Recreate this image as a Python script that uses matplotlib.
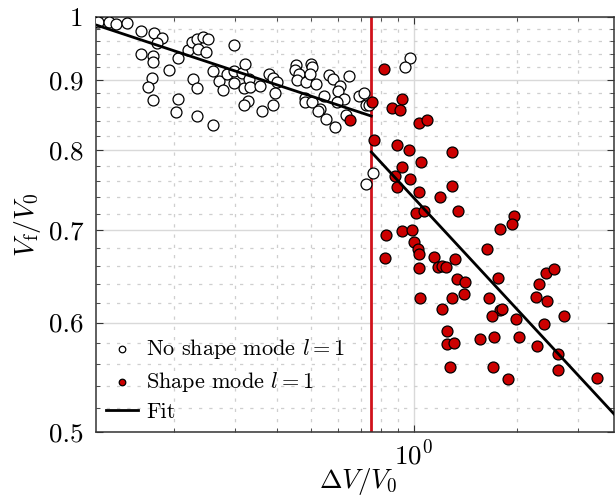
import matplotlib
matplotlib.use("Agg")
import matplotlib.pyplot as plt
from matplotlib.ticker import FixedLocator, MultipleLocator, NullFormatter, LogLocator

plt.rcParams['font.family'] = 'cmr10'
plt.rcParams['mathtext.fontset'] = 'cm'
plt.rcParams['axes.formatter.use_mathtext'] = True

# no shape mode l=1 (dV/V0, Vf/V0)
nos_x = [0.1203, 0.1295, 0.1352, 0.1453, 0.1605, 0.1748, 0.1840, 0.1787, 0.1597, 0.1738,
         0.1738, 0.1934, 0.1722, 0.1677, 0.1738, 0.2051, 0.2189, 0.2246, 0.2338, 0.2431,
         0.2508, 0.2350, 0.2470, 0.2273, 0.2338, 0.2058, 0.2021, 0.2330, 0.2598, 0.2603,
         0.2704, 0.2774, 0.2854, 0.2997, 0.2993, 0.2997, 0.3145, 0.3227, 0.3205, 0.3299,
         0.3319, 0.3281, 0.3205, 0.3557, 0.3617, 0.3783, 0.3894, 0.3979, 0.3933, 0.3894,
         0.4529, 0.4513, 0.4637, 0.4559, 0.4843, 0.5009, 0.5059, 0.4985, 0.5197, 0.4811,
         0.4811, 0.5059, 0.5321, 0.5260, 0.5476, 0.5663, 0.5805, 0.6085, 0.6016, 0.6251,
         0.5952, 0.5528, 0.5884, 0.6464, 0.6335, 0.6913, 0.7163, 0.7231, 0.7408, 0.9735,
         0.9445, 0.7579, 0.7245]
nos_y = [0.9925, 0.9913, 0.9884, 0.9895, 0.9769, 0.9733, 0.9647, 0.9570, 0.9400, 0.9374,
         0.9275, 0.9152, 0.9031, 0.8893, 0.8705, 0.9333, 0.9471, 0.9586, 0.9639, 0.9671,
         0.9634, 0.9474, 0.9429, 0.9016, 0.8885, 0.8719, 0.8535, 0.8475, 0.8355, 0.9142,
         0.8990, 0.8851, 0.9094, 0.9540, 0.9142, 0.8960, 0.9102, 0.9244, 0.8874, 0.9023,
         0.8899, 0.8697, 0.8632, 0.8911, 0.8539, 0.9088, 0.9028, 0.8966, 0.8803, 0.8629,
         0.9229, 0.9145, 0.9084, 0.9005, 0.8970, 0.9240, 0.9203, 0.9084, 0.8945, 0.8734,
         0.8675, 0.8675, 0.8570, 0.8550, 0.8763, 0.9076, 0.9011, 0.8911, 0.8841, 0.8719,
         0.8680, 0.8432, 0.8316, 0.9061, 0.8496, 0.8770, 0.8803, 0.8632, 0.8632, 0.9345,
         0.9198, 0.7701, 0.7561]

# shape mode l=1
sh_x = [0.8176, 0.7528, 0.9207, 0.8644, 0.9103, 0.6508, 1.0341, 1.0934, 0.7661, 0.8922,
        0.9650, 1.2880, 1.0481, 0.9245, 0.8803, 0.9755, 0.8904, 1.2906, 1.0327, 1.1931,
        1.0135, 1.0673, 1.3463, 0.8286, 0.9226, 0.9867, 1.0000, 1.0272, 1.0341, 0.8247,
        1.1414, 1.3168, 1.0362, 1.1772, 1.2043, 1.2396, 1.3373, 1.4111, 1.0432, 1.2880,
        1.4017, 1.2068, 1.7811, 1.6357, 1.7610, 1.6578, 1.7872, 1.8052, 1.6915, 1.2480,
        1.2455, 1.3107, 1.5575, 1.7109, 1.2759, 1.7052, 1.8859, 1.9607, 1.9307, 2.4256,
        2.5646, 2.3143, 2.2728, 2.4371, 1.9792, 2.7427, 2.3933, 2.0195, 2.2835, 2.6292,
        2.6345, 3.4228]
sh_y = [0.9171, 0.8680, 0.8715, 0.8586, 0.8567, 0.8414, 0.8376, 0.8418, 0.8142, 0.8070,
        0.8003, 0.7980, 0.7844, 0.7778, 0.7666, 0.7624, 0.7530, 0.7539, 0.7470, 0.7405,
        0.7210, 0.7231, 0.7231, 0.6946, 0.6989, 0.7005, 0.6865, 0.6782, 0.6733, 0.6681,
        0.6692, 0.6673, 0.6573, 0.6581, 0.6599, 0.6581, 0.6451, 0.6425, 0.6252, 0.6252,
        0.6294, 0.6135, 0.7013, 0.6782, 0.6462, 0.6250, 0.6130, 0.6141, 0.6067, 0.5920,
        0.5786, 0.5802, 0.5838, 0.5857, 0.5571, 0.5574, 0.5456, 0.7170, 0.7071, 0.6522,
        0.6563, 0.6400, 0.6262, 0.6218, 0.6034, 0.6064, 0.5983, 0.5860, 0.5773, 0.5690,
        0.5540, 0.5469]

# power-law fits (end points)
fit1_x = [0.118, 0.751]
fit1_y = [0.987, 0.8474]
fit2_x = [0.751, 3.83]
fit2_y = [0.798, 0.515]
threshold = 0.751

yticks = [0.5, 0.6, 0.7, 0.8, 0.9, 1.0]
yticklabels = ['0.5', '0.6', '0.7', '0.8', '0.9', '1']

fig = plt.figure(figsize=(6.15, 4.97), dpi=100)
ax = fig.add_axes([0.1561, 0.1314, 0.8423, 0.8344])
ax.set_xscale('log')
ax.set_yscale('log')

ax.axvline(threshold, color='#d0121b', lw=2, zorder=2)
ax.scatter(nos_x, nos_y, s=62, facecolor='white', edgecolor='black', linewidth=0.9,
           zorder=3, label=r'No shape mode $l=1$')
ax.scatter(sh_x, sh_y, s=62, facecolor='#cc0000', edgecolor='black', linewidth=0.9,
           zorder=3, label=r'Shape mode $l=1$')
ax.plot(fit1_x, fit1_y, color='black', lw=2, zorder=4, label='Fit')
ax.plot(fit2_x, fit2_y, color='black', lw=2, zorder=4)

ax.set_xlim(0.1183, 3.83)
ax.set_ylim(0.5, 1.0)

ax.yaxis.set_major_locator(FixedLocator(yticks))
ax.set_yticklabels(yticklabels)
ax.yaxis.set_minor_locator(MultipleLocator(0.02))
ax.yaxis.set_minor_formatter(NullFormatter())
ax.xaxis.set_major_locator(LogLocator(base=10))
ax.xaxis.set_minor_locator(LogLocator(base=10, subs=range(2, 10)))
ax.xaxis.set_minor_formatter(NullFormatter())

ax.tick_params(which='both', direction='in', top=True, right=True, labelsize=19.5,
               color='#333333')
ax.tick_params(which='major', length=5, pad=9)
ax.tick_params(axis='x', which='major', pad=6)
ax.tick_params(which='minor', length=3)
ax.grid(which='major', color='#d9d9d9', lw=1, ls='-', zorder=0)
ax.grid(which='minor', color='#cfcfcf', lw=0.9, ls=(0, (2.6, 5.6)), zorder=0)
ax.set_axisbelow(True)
for sp in ax.spines.values():
    sp.set_color('#333333')
    sp.set_linewidth(1.1)

ax.set_xlabel(r'$\Delta V/V_0$', fontsize=19.5)
ax.xaxis.set_label_coords(0.506, -0.083)
ax.set_ylabel(r'$V_\mathrm{f}/V_0$', fontsize=20, labelpad=4)

leg = ax.legend(loc='lower left', frameon=False, fontsize=16, markerscale=0.6,
                handlelength=1.45, handletextpad=0.35, labelspacing=0.38,
                borderaxespad=0.05)

fig.savefig('out.png', dpi=100)
